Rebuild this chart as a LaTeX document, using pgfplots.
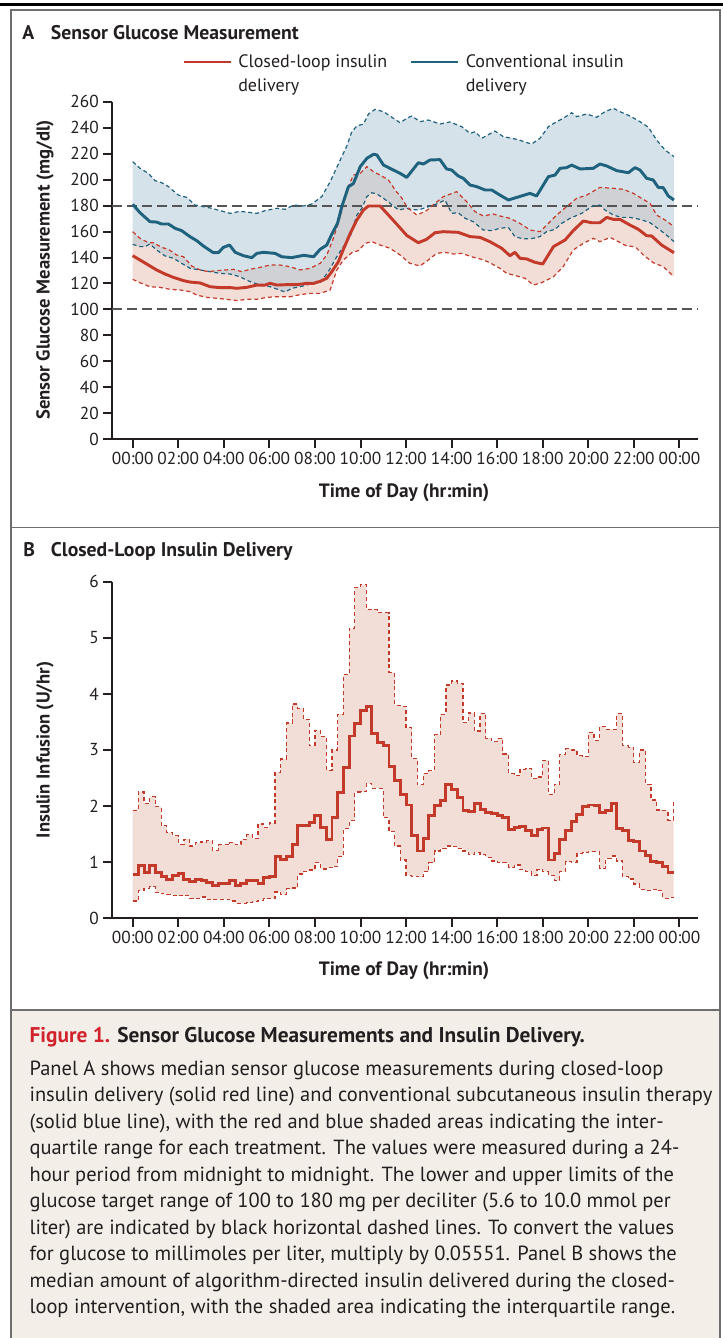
\documentclass[border=0pt]{standalone}
\usepackage{pgfplots}
\pgfplotsset{compat=1.18}
\usepackage{pgfplotstable}
\usepgfplotslibrary{fillbetween}
\usepackage{fontspec}
\setmainfont{PT Sans}
\definecolor{nred}{RGB}{196,58,42}
\definecolor{nblue}{RGB}{30,98,126}
\definecolor{redfill}{RGB}{242,222,215}
\definecolor{bluefill}{RGB}{173,197,213}
\definecolor{txt}{RGB}{35,31,32}
\definecolor{capbg}{RGB}{243,239,232}
\definecolor{framegray}{RGB}{110,110,110}
\definecolor{capred}{RGB}{210,35,45}
\definecolor{refgray}{RGB}{85,85,85}
\newcommand\fs[1]{\fontsize{#1}{#1}\selectfont}

\pgfplotstableread{
t up med low
0.00 1.92 0.78 0.31
0.25 2.25 0.94 0.50
0.50 2.05 0.82 0.53
0.75 2.17 0.94 0.56
1.00 1.99 0.81 0.46
1.25 1.65 0.75 0.44
1.50 1.53 0.69 0.43
1.75 1.47 0.77 0.41
2.00 1.32 0.80 0.40
2.25 1.41 0.69 0.41
2.50 1.29 0.65 0.36
2.75 1.35 0.69 0.36
3.00 1.36 0.68 0.38
3.25 1.38 0.64 0.34
3.50 1.21 0.58 0.33
3.75 1.31 0.62 0.34
4.00 1.31 0.62 0.34
4.25 1.35 0.67 0.31
4.50 1.31 0.59 0.27
4.75 1.40 0.62 0.27
5.00 1.49 0.68 0.28
5.25 1.42 0.67 0.30
5.50 1.68 0.62 0.32
5.75 1.62 0.72 0.35
6.00 1.70 0.75 0.35
6.25 2.60 1.10 0.47
6.50 2.84 1.05 0.42
6.75 3.48 1.11 0.53
7.00 3.82 1.32 0.54
7.25 3.74 1.65 0.79
7.50 3.55 1.65 0.84
7.75 3.08 1.71 0.86
8.00 3.35 1.83 0.99
8.25 3.24 1.62 0.88
8.50 2.64 1.41 0.90
8.75 3.00 1.80 0.93
9.00 3.64 2.24 1.10
9.25 4.34 2.69 1.60
9.50 5.17 3.25 1.74
9.75 5.90 3.47 2.25
10.00 5.95 3.71 2.26
10.25 5.51 3.78 2.40
10.50 5.50 3.29 2.32
10.75 5.45 3.14 2.32
11.00 5.45 3.08 1.80
11.25 4.38 2.70 1.55
11.50 3.80 2.45 1.29
11.75 3.78 2.21 1.04
12.00 3.40 2.02 0.77
12.25 2.85 1.48 0.75
12.50 2.38 1.20 0.74
12.75 2.58 1.42 0.83
13.00 2.63 1.83 0.99
13.25 3.27 2.01 1.20
13.50 3.64 2.10 1.25
13.75 4.16 2.38 1.29
14.00 4.23 2.29 1.28
14.25 4.19 2.15 1.24
14.50 3.49 1.92 1.20
14.75 3.66 1.90 1.14
15.00 3.34 2.05 1.17
15.25 3.65 1.94 1.14
15.50 3.21 1.89 1.09
15.75 3.15 1.87 1.02
16.00 3.21 1.84 1.00
16.25 2.93 1.79 0.99
16.50 2.58 1.59 0.91
16.75 2.54 1.62 0.95
17.00 2.65 1.64 0.87
17.25 2.67 1.56 0.83
17.50 2.49 1.48 0.77
17.75 2.52 1.58 0.87
18.00 2.82 1.61 0.83
18.25 2.20 1.04 0.77
18.50 2.39 1.16 0.68
18.75 2.92 1.41 0.83
19.00 3.02 1.56 1.01
19.25 3.00 1.72 1.00
19.50 2.90 1.85 1.16
19.75 2.88 2.00 1.18
20.00 3.31 2.02 1.19
20.25 3.17 2.01 1.19
20.50 3.42 1.89 0.89
20.75 3.37 1.93 1.07
21.00 3.37 2.04 1.11
21.25 3.65 1.60 1.02
21.50 3.08 1.56 0.74
21.75 3.05 1.38 0.70
22.00 2.78 1.37 0.61
22.25 3.00 1.20 0.52
22.50 2.39 1.12 0.50
22.75 2.11 1.02 0.52
23.00 1.93 0.99 0.49
23.25 1.92 0.92 0.36
23.50 1.75 0.82 0.37
23.75 2.11 0.82 0.37
}\insulin

\pgfplotsset{
  nejm/.style={
    scale only axis, width=439.5pt,
    xmin=-0.9087, xmax=24.816,
    axis x line*=bottom, axis y line*=left,
    axis line style={line width=1.7pt, txt, -},
    xtick={0,2,4,6,8,10,12,14,16,18,20,22,24},
    xticklabels={00:00,02:00,04:00,06:00,08:00,10:00,12:00,14:00,16:00,18:00,20:00,22:00,00:00},
    tick align=outside, major tick length=6.4pt,
    tick style={line width=1.5pt, txt},
    ticklabel style={font=\fs{13}, text=txt},
    /pgf/number format/assume math mode=true,
  },
}

\begin{document}
\begin{tikzpicture}
\begin{scope}[x=0.75pt,y=-0.75pt]
\path[use as bounding box] (0,0) rectangle (723,1338);
\fill[capbg] (11,1010) rectangle (720,1338);
\fill[black] (0,2.7) rectangle (723,6);
\draw[framegray, line width=1.1pt] (11,1340) -- (11,10) -- (720,10) -- (720,1340);
\draw[framegray, line width=1.1pt] (11,527.5) -- (720,527.5);
\draw[framegray, line width=1.1pt] (11,1010) -- (720,1010);
% titles
\node[anchor=base west, inner sep=0, text=txt, font=\bfseries\fs{14.8}] at (22,40) {A};
\node[anchor=base west, inner sep=0, text=txt, font=\bfseries\fs{14.8}] at (50.7,40) {Sensor Glucose Measurement};
\node[anchor=base west, inner sep=0, text=txt, font=\bfseries\fs{14.8}] at (23,556.5) {B};
\node[anchor=base west, inner sep=0, text=txt, font=\bfseries\fs{14.8}] at (50.7,556.5) {Closed-Loop Insulin Delivery};
% legend
\draw[nred, line width=2.2pt] (184,62) -- (231,62);
\node[anchor=base west, inner sep=0, text=txt, font=\fs{13.5}] at (238,68) {Closed-loop insulin};
\node[anchor=base west, inner sep=0, text=txt, font=\fs{13.5}] at (238,92) {delivery};
\draw[nblue, line width=2.2pt] (411,62) -- (458,62);
\node[anchor=base west, inner sep=0, text=txt, font=\fs{13.5}] at (465.5,68) {Conventional insulin};
\node[anchor=base west, inner sep=0, text=txt, font=\fs{13.5}] at (465.5,92) {delivery};
% axis labels
\node[rotate=90, inner sep=0, text=txt, font=\bfseries\fs{14}] at (45,270) {Sensor Glucose Measurement (mg/dl)};
\node[inner sep=0, text=txt, font=\bfseries\fs{14.5}] at (404,493) {Time of Day (hr:min)};
\node[rotate=90, inner sep=0, text=txt, font=\bfseries\fs{14}] at (45,750) {Insulin Infusion (U/hr)};
\node[inner sep=0, text=txt, font=\bfseries\fs{14.5}] at (404,971) {Time of Day (hr:min)};
% caption
\node[anchor=base west, inner sep=0, font=\bfseries\fs{16}] at (29.3,1042.7) {\textcolor{capred}{Figure 1.} \textcolor{txt}{Sensor Glucose Measurements and Insulin Delivery.}};
\foreach \yy/\tt in {
1075/{Panel A shows median sensor glucose measurements during closed-loop},
1101.5/{insulin delivery (solid red line) and conventional subcutaneous insulin therapy},
1128/{(solid blue line), with the red and blue shaded areas indicating the inter-},
1154.5/{quartile range for each treatment. The values were measured during a 24-},
1181/{hour period from midnight to midnight. The lower and upper limits of the},
1207.5/{glucose target range of 100 to 180 mg per deciliter (5.6 to 10.0 mmol per},
1234/{liter) are indicated by black horizontal dashed lines. To convert the values},
1260.5/{for glucose to millimoles per liter, multiply by 0.05551. Panel B shows the},
1287/{median amount of algorithm-directed insulin delivered during the closed-},
1313.5/{loop intervention, with the shaded area indicating the interquartile range.}}
{\node[anchor=base west, inner sep=0, text=txt, font=\fs{15.35}] at (29.3,\yy) {\tt};}
\end{scope}

% ---------------- Panel A ----------------
\begin{axis}[nejm,
  at={(112*0.75pt,-439.3*0.75pt)}, anchor=south west,
  height=253.2pt, ymin=0, ymax=260,
  ytick={0,20,...,260},
]
\addplot[name path=rup, draw=none] coordinates {(0,159.9) (0.32,154.8) (0.69,151.4) (0.91,151.4) (1.27,147.8) (1.57,146.3) (1.93,141.9) (2.23,140.6) (2.59,133.5) (2.96,130.4) (3.32,129.1) (3.69,129.9) (4.06,130.4) (4.42,130.9) (4.79,129.1) (5.15,130.9) (5.59,132.4) (6.03,134.2) (6.47,134.2) (6.91,132.9) (7.35,130.4) (7.79,131.7) (8.23,135.5) (8.52,141.9) (8.81,154.8) (9.11,171.4) (9.4,192) (9.69,203.5) (9.99,204.8) (10.28,210) (10.57,206.1) (10.86,203.5) (11.23,199.7) (11.52,192) (11.82,185.6) (12.03,179.2) (12.47,172.7) (12.9,176.1) (13.27,181.7) (13.64,186.9) (14.22,190.7) (14.66,183) (15.03,175.3) (15.39,172) (15.83,173.5) (16.12,172) (16.56,170.2) (17.0,166.3) (17.44,161.2) (17.88,159.9) (18.25,166.3) (18.61,172.7) (19.05,179.2) (19.49,185.6) (19.93,188.1) (20.51,194) (21.1,193.3) (21.54,192.5) (21.98,189.4) (22.27,186.3) (22.71,181.7) (23.0,172.7) (23.37,168.9) (23.76,163.8)};
\addplot[name path=rlo, draw=none] coordinates {(0,123.2) (0.32,120.6) (0.76,117.5) (1.2,117) (1.64,115.5) (2.08,115) (2.52,113.7) (2.81,111.1) (3.25,109.3) (3.69,108.6) (4.13,107.8) (4.57,106.8) (5.0,107.8) (5.45,107.8) (5.89,109.3) (6.33,109.8) (6.91,109.8) (7.35,111.4) (7.79,112.4) (8.23,112.4) (8.67,115) (8.96,130.4) (9.25,138.1) (9.62,143.7) (9.91,145.3) (10.2,150.9) (10.5,152.2) (10.86,149.6) (11.3,147.1) (11.74,141.9) (12.17,135.5) (12.61,133.5) (12.98,138.1) (13.34,143.2) (13.71,144) (14.07,142.7) (14.44,143.2) (14.88,140.6) (15.32,138.6) (15.68,136) (16.12,131.7) (16.42,127.8) (16.86,125.8) (17.22,124) (17.59,118.8) (17.95,120.6) (18.47,125.2) (18.9,133) (19.34,145.8) (19.78,150.9) (20.22,154.8) (20.51,152.2) (20.96,155.5) (21.32,152.2) (21.68,148.9) (22.05,148.4) (22.42,141.9) (22.85,136) (23.29,133) (23.76,125.2)};
\addplot[name path=bup, draw=none] coordinates {(0,213.8) (0.32,208.7) (0.69,204.8) (0.98,199.2) (1.27,197.6) (1.57,194.6) (2.0,188.1) (2.37,186.3) (2.74,180.4) (3.1,179.2) (3.47,177.9) (3.84,176.1) (4.28,174) (4.71,175.6) (5.0,175) (5.45,174) (5.81,176.1) (6.33,177.9) (6.69,177.1) (7.06,180.4) (7.5,179.7) (7.86,181.2) (8.3,186.9) (8.67,198.4) (9.11,215.1) (9.4,225.9) (9.62,236.9) (9.84,241.3) (10.13,242.8) (10.35,250.5) (10.64,254.1) (11.01,252.3) (11.38,248) (11.74,243.8) (12.03,247.2) (12.25,249) (12.61,244.6) (12.98,245.9) (13.49,242.8) (13.93,244.4) (14.44,240.8) (14.81,235.6) (15.03,236.9) (15.32,231.8) (15.9,237.4) (16.27,233.1) (16.86,231) (17.51,227.4) (17.88,231.8) (18.25,240.8) (18.61,244.6) (18.9,247.2) (19.27,251.5) (19.49,248.5) (19.93,250.5) (20.37,248) (20.73,252.3) (21.1,254.9) (21.39,252.3) (21.83,249) (22.27,244.6) (22.64,240.3) (23.0,230.5) (23.37,222.8) (23.76,217.7)};
\addplot[name path=blo, draw=none] coordinates {(0,150.1) (0.32,148.4) (0.54,148.4) (0.76,150.4) (1.05,145.8) (1.42,141.2) (1.79,139.4) (2.15,135.5) (2.52,131.7) (2.96,130.4) (3.4,129.1) (3.84,127.8) (4.28,127.3) (4.71,125.2) (5.15,121.4) (5.59,118.8) (6.03,117.5) (6.33,115.7) (6.69,113.4) (6.98,116.3) (7.35,117.5) (7.79,119.6) (8.23,120.6) (8.59,129.1) (8.96,140.7) (9.25,148.4) (9.55,156.1) (9.84,172.7) (10.06,177.9) (10.28,186.9) (10.5,189.9) (10.72,188.9) (11.01,185.6) (11.3,181.7) (11.67,176.6) (12.03,177.9) (12.17,177.1) (12.54,176.6) (12.9,178.6) (13.34,181.2) (13.71,184.3) (14.0,174) (14.29,174.5) (14.59,170.2) (14.95,167.6) (15.39,161.2) (15.76,160.7) (16.12,162.5) (16.49,163.2) (16.78,156.1) (17.15,154.3) (17.59,154.8) (17.88,156.1) (18.17,159.9) (18.54,161.7) (18.83,166.3) (19.2,170.2) (19.71,174) (20.15,179.2) (20.51,180.4) (20.73,176.6) (21.1,172.7) (21.46,170.9) (21.83,170.9) (22.27,169.4) (22.71,166.8) (23.15,161.2) (23.51,156.1) (23.76,152.2)};
\addplot[redfill, draw=none] fill between[of=rup and rlo];
\addplot[bluefill, fill opacity=0.5, draw=none] fill between[of=bup and blo];
\addplot[refgray, line width=1.5pt, dash pattern=on 7.5pt off 3.75pt] coordinates {(-0.9087,180) (24.816,180)};
\addplot[refgray, line width=1.5pt, dash pattern=on 7.5pt off 3.75pt] coordinates {(-0.9087,100) (24.816,100)};
% dashed IQR lines
\addplot[nblue, line width=0.9pt, dash pattern=on 3pt off 2.2pt] coordinates {(0,213.8) (0.32,208.7) (0.69,204.8) (0.98,199.2) (1.27,197.6) (1.57,194.6) (2.0,188.1) (2.37,186.3) (2.74,180.4) (3.1,179.2) (3.47,177.9) (3.84,176.1) (4.28,174) (4.71,175.6) (5.0,175) (5.45,174) (5.81,176.1) (6.33,177.9) (6.69,177.1) (7.06,180.4) (7.5,179.7) (7.86,181.2) (8.3,186.9) (8.67,198.4) (9.11,215.1) (9.4,225.9) (9.62,236.9) (9.84,241.3) (10.13,242.8) (10.35,250.5) (10.64,254.1) (11.01,252.3) (11.38,248) (11.74,243.8) (12.03,247.2) (12.25,249) (12.61,244.6) (12.98,245.9) (13.49,242.8) (13.93,244.4) (14.44,240.8) (14.81,235.6) (15.03,236.9) (15.32,231.8) (15.9,237.4) (16.27,233.1) (16.86,231) (17.51,227.4) (17.88,231.8) (18.25,240.8) (18.61,244.6) (18.9,247.2) (19.27,251.5) (19.49,248.5) (19.93,250.5) (20.37,248) (20.73,252.3) (21.1,254.9) (21.39,252.3) (21.83,249) (22.27,244.6) (22.64,240.3) (23.0,230.5) (23.37,222.8) (23.76,217.7)};
\addplot[nblue, line width=0.9pt, dash pattern=on 3pt off 2.2pt] coordinates {(0,150.1) (0.32,148.4) (0.54,148.4) (0.76,150.4) (1.05,145.8) (1.42,141.2) (1.79,139.4) (2.15,135.5) (2.52,131.7) (2.96,130.4) (3.4,129.1) (3.84,127.8) (4.28,127.3) (4.71,125.2) (5.15,121.4) (5.59,118.8) (6.03,117.5) (6.33,115.7) (6.69,113.4) (6.98,116.3) (7.35,117.5) (7.79,119.6) (8.23,120.6) (8.59,129.1) (8.96,140.7) (9.25,148.4) (9.55,156.1) (9.84,172.7) (10.06,177.9) (10.28,186.9) (10.5,189.9) (10.72,188.9) (11.01,185.6) (11.3,181.7) (11.67,176.6) (12.03,177.9) (12.17,177.1) (12.54,176.6) (12.9,178.6) (13.34,181.2) (13.71,184.3) (14.0,174) (14.29,174.5) (14.59,170.2) (14.95,167.6) (15.39,161.2) (15.76,160.7) (16.12,162.5) (16.49,163.2) (16.78,156.1) (17.15,154.3) (17.59,154.8) (17.88,156.1) (18.17,159.9) (18.54,161.7) (18.83,166.3) (19.2,170.2) (19.71,174) (20.15,179.2) (20.51,180.4) (20.73,176.6) (21.1,172.7) (21.46,170.9) (21.83,170.9) (22.27,169.4) (22.71,166.8) (23.15,161.2) (23.51,156.1) (23.76,152.2)};
\addplot[nred, line width=0.9pt, dash pattern=on 3pt off 2.2pt] coordinates {(0,159.9) (0.32,154.8) (0.69,151.4) (0.91,151.4) (1.27,147.8) (1.57,146.3) (1.93,141.9) (2.23,140.6) (2.59,133.5) (2.96,130.4) (3.32,129.1) (3.69,129.9) (4.06,130.4) (4.42,130.9) (4.79,129.1) (5.15,130.9) (5.59,132.4) (6.03,134.2) (6.47,134.2) (6.91,132.9) (7.35,130.4) (7.79,131.7) (8.23,135.5) (8.52,141.9) (8.81,154.8) (9.11,171.4) (9.4,192) (9.69,203.5) (9.99,204.8) (10.28,210) (10.57,206.1) (10.86,203.5) (11.23,199.7) (11.52,192) (11.82,185.6) (12.03,179.2) (12.47,172.7) (12.9,176.1) (13.27,181.7) (13.64,186.9) (14.22,190.7) (14.66,183) (15.03,175.3) (15.39,172) (15.83,173.5) (16.12,172) (16.56,170.2) (17.0,166.3) (17.44,161.2) (17.88,159.9) (18.25,166.3) (18.61,172.7) (19.05,179.2) (19.49,185.6) (19.93,188.1) (20.51,194) (21.1,193.3) (21.54,192.5) (21.98,189.4) (22.27,186.3) (22.71,181.7) (23.0,172.7) (23.37,168.9) (23.76,163.8)};
\addplot[nred, line width=0.9pt, dash pattern=on 3pt off 2.2pt] coordinates {(0,123.2) (0.32,120.6) (0.76,117.5) (1.2,117) (1.64,115.5) (2.08,115) (2.52,113.7) (2.81,111.1) (3.25,109.3) (3.69,108.6) (4.13,107.8) (4.57,106.8) (5.0,107.8) (5.45,107.8) (5.89,109.3) (6.33,109.8) (6.91,109.8) (7.35,111.4) (7.79,112.4) (8.23,112.4) (8.67,115) (8.96,130.4) (9.25,138.1) (9.62,143.7) (9.91,145.3) (10.2,150.9) (10.5,152.2) (10.86,149.6) (11.3,147.1) (11.74,141.9) (12.17,135.5) (12.61,133.5) (12.98,138.1) (13.34,143.2) (13.71,144) (14.07,142.7) (14.44,143.2) (14.88,140.6) (15.32,138.6) (15.68,136) (16.12,131.7) (16.42,127.8) (16.86,125.8) (17.22,124) (17.59,118.8) (17.95,120.6) (18.47,125.2) (18.9,133) (19.34,145.8) (19.78,150.9) (20.22,154.8) (20.51,152.2) (20.96,155.5) (21.32,152.2) (21.68,148.9) (22.05,148.4) (22.42,141.9) (22.85,136) (23.29,133) (23.76,125.2)};
% medians
\addplot[nblue, line width=2.2pt, line join=round] coordinates {(0,181) (0.32,174.5) (0.76,167.6) (1.05,167.3) (1.27,165.8) (1.57,165.8) (1.86,162.5) (2.15,160.7) (2.52,156) (2.81,153) (3.1,148.9) (3.54,143.7) (3.76,143.7) (3.98,147.8) (4.25,149.6) (4.5,144) (4.86,141.4) (5.23,139.9) (5.45,143.2) (5.74,144) (6.25,143.2) (6.54,140.6) (6.98,139.9) (7.5,141.7) (7.94,140.6) (8.23,146.3) (8.52,149.6) (8.74,158) (8.99,166.3) (9.18,179.2) (9.47,194.5) (9.69,197) (9.99,210) (10.28,216.4) (10.57,219.5) (10.72,219) (11.01,211.2) (11.38,207.9) (11.74,204.8) (12.03,201.7) (12.54,213) (12.76,212) (13.05,215.1) (13.49,215.4) (13.78,208.2) (14.0,207.4) (14.29,202.8) (14.51,201) (14.81,195.8) (15.1,194.6) (15.47,192) (15.76,192) (16.12,188.1) (16.49,184.3) (16.86,186.3) (17.44,189.4) (17.73,187.4) (18.25,202.3) (18.54,203.5) (18.76,208.7) (19.05,209.2) (19.27,211.2) (19.64,208.2) (20.22,208.7) (20.51,212) (20.81,210.5) (21.25,206.9) (21.76,205.3) (22.05,209.2) (22.27,207.4) (22.56,201) (22.85,199.7) (23.07,194) (23.29,193.8) (23.51,187.4) (23.76,184.3)};
\addplot[nred, line width=2.2pt, line join=round] coordinates {(0,141.4) (0.32,138.1) (0.69,134.2) (1.05,130.4) (1.42,127.3) (1.79,124.7) (2.23,122.2) (2.52,121.1) (2.96,120.4) (3.4,117.5) (3.84,116.8) (4.28,116.8) (4.57,116.3) (5.0,117) (5.45,118.8) (5.81,118.8) (6.03,120.1) (6.33,118.8) (6.76,119.1) (7.2,119.1) (7.64,120.1) (7.94,120.1) (8.23,121.7) (8.52,124) (8.74,129.1) (9.03,136.8) (9.25,146.3) (9.55,158.6) (9.84,168.9) (10.13,176.6) (10.35,179.7) (10.86,179.7) (11.16,174) (11.6,165.5) (12.03,157) (12.54,151.4) (12.9,154) (13.27,159.1) (13.64,159.9) (14.29,159.4) (14.81,156.1) (15.25,155.5) (15.68,152.2) (16.2,147.1) (16.56,141.4) (16.78,144) (17.0,139.4) (17.29,138.9) (17.66,136.3) (18.0,135) (18.47,148.4) (18.98,153.5) (19.34,160.7) (19.78,168.1) (20.15,166.8) (20.51,166.8) (20.81,170.9) (21.1,169.4) (21.39,169.4) (21.83,165) (22.2,161.7) (22.56,156.8) (22.78,156.6) (23.22,149.6) (23.76,143.7)};
\end{axis}

% ---------------- Panel B ----------------
\begin{axis}[nejm,
  at={(112*0.75pt,-918.3*0.75pt)}, anchor=south west,
  height=252.45pt, ymin=0, ymax=6,
  ytick={0,1,2,3,4,5,6},
]
\addplot[name path=iup, draw=none, const plot] table[x=t, y=up] {\insulin};
\addplot[name path=ilo, draw=none, const plot] table[x=t, y=low] {\insulin};
\addplot[redfill, draw=none] fill between[of=iup and ilo];
\addplot[nred, line width=0.9pt, dash pattern=on 3pt off 2.2pt, const plot] table[x=t, y=up] {\insulin};
\addplot[nred, line width=0.9pt, dash pattern=on 3pt off 2.2pt, const plot] table[x=t, y=low] {\insulin};
\addplot[nred, line width=2.2pt, const plot] table[x=t, y=med] {\insulin};
\end{axis}
\end{tikzpicture}
\end{document}
